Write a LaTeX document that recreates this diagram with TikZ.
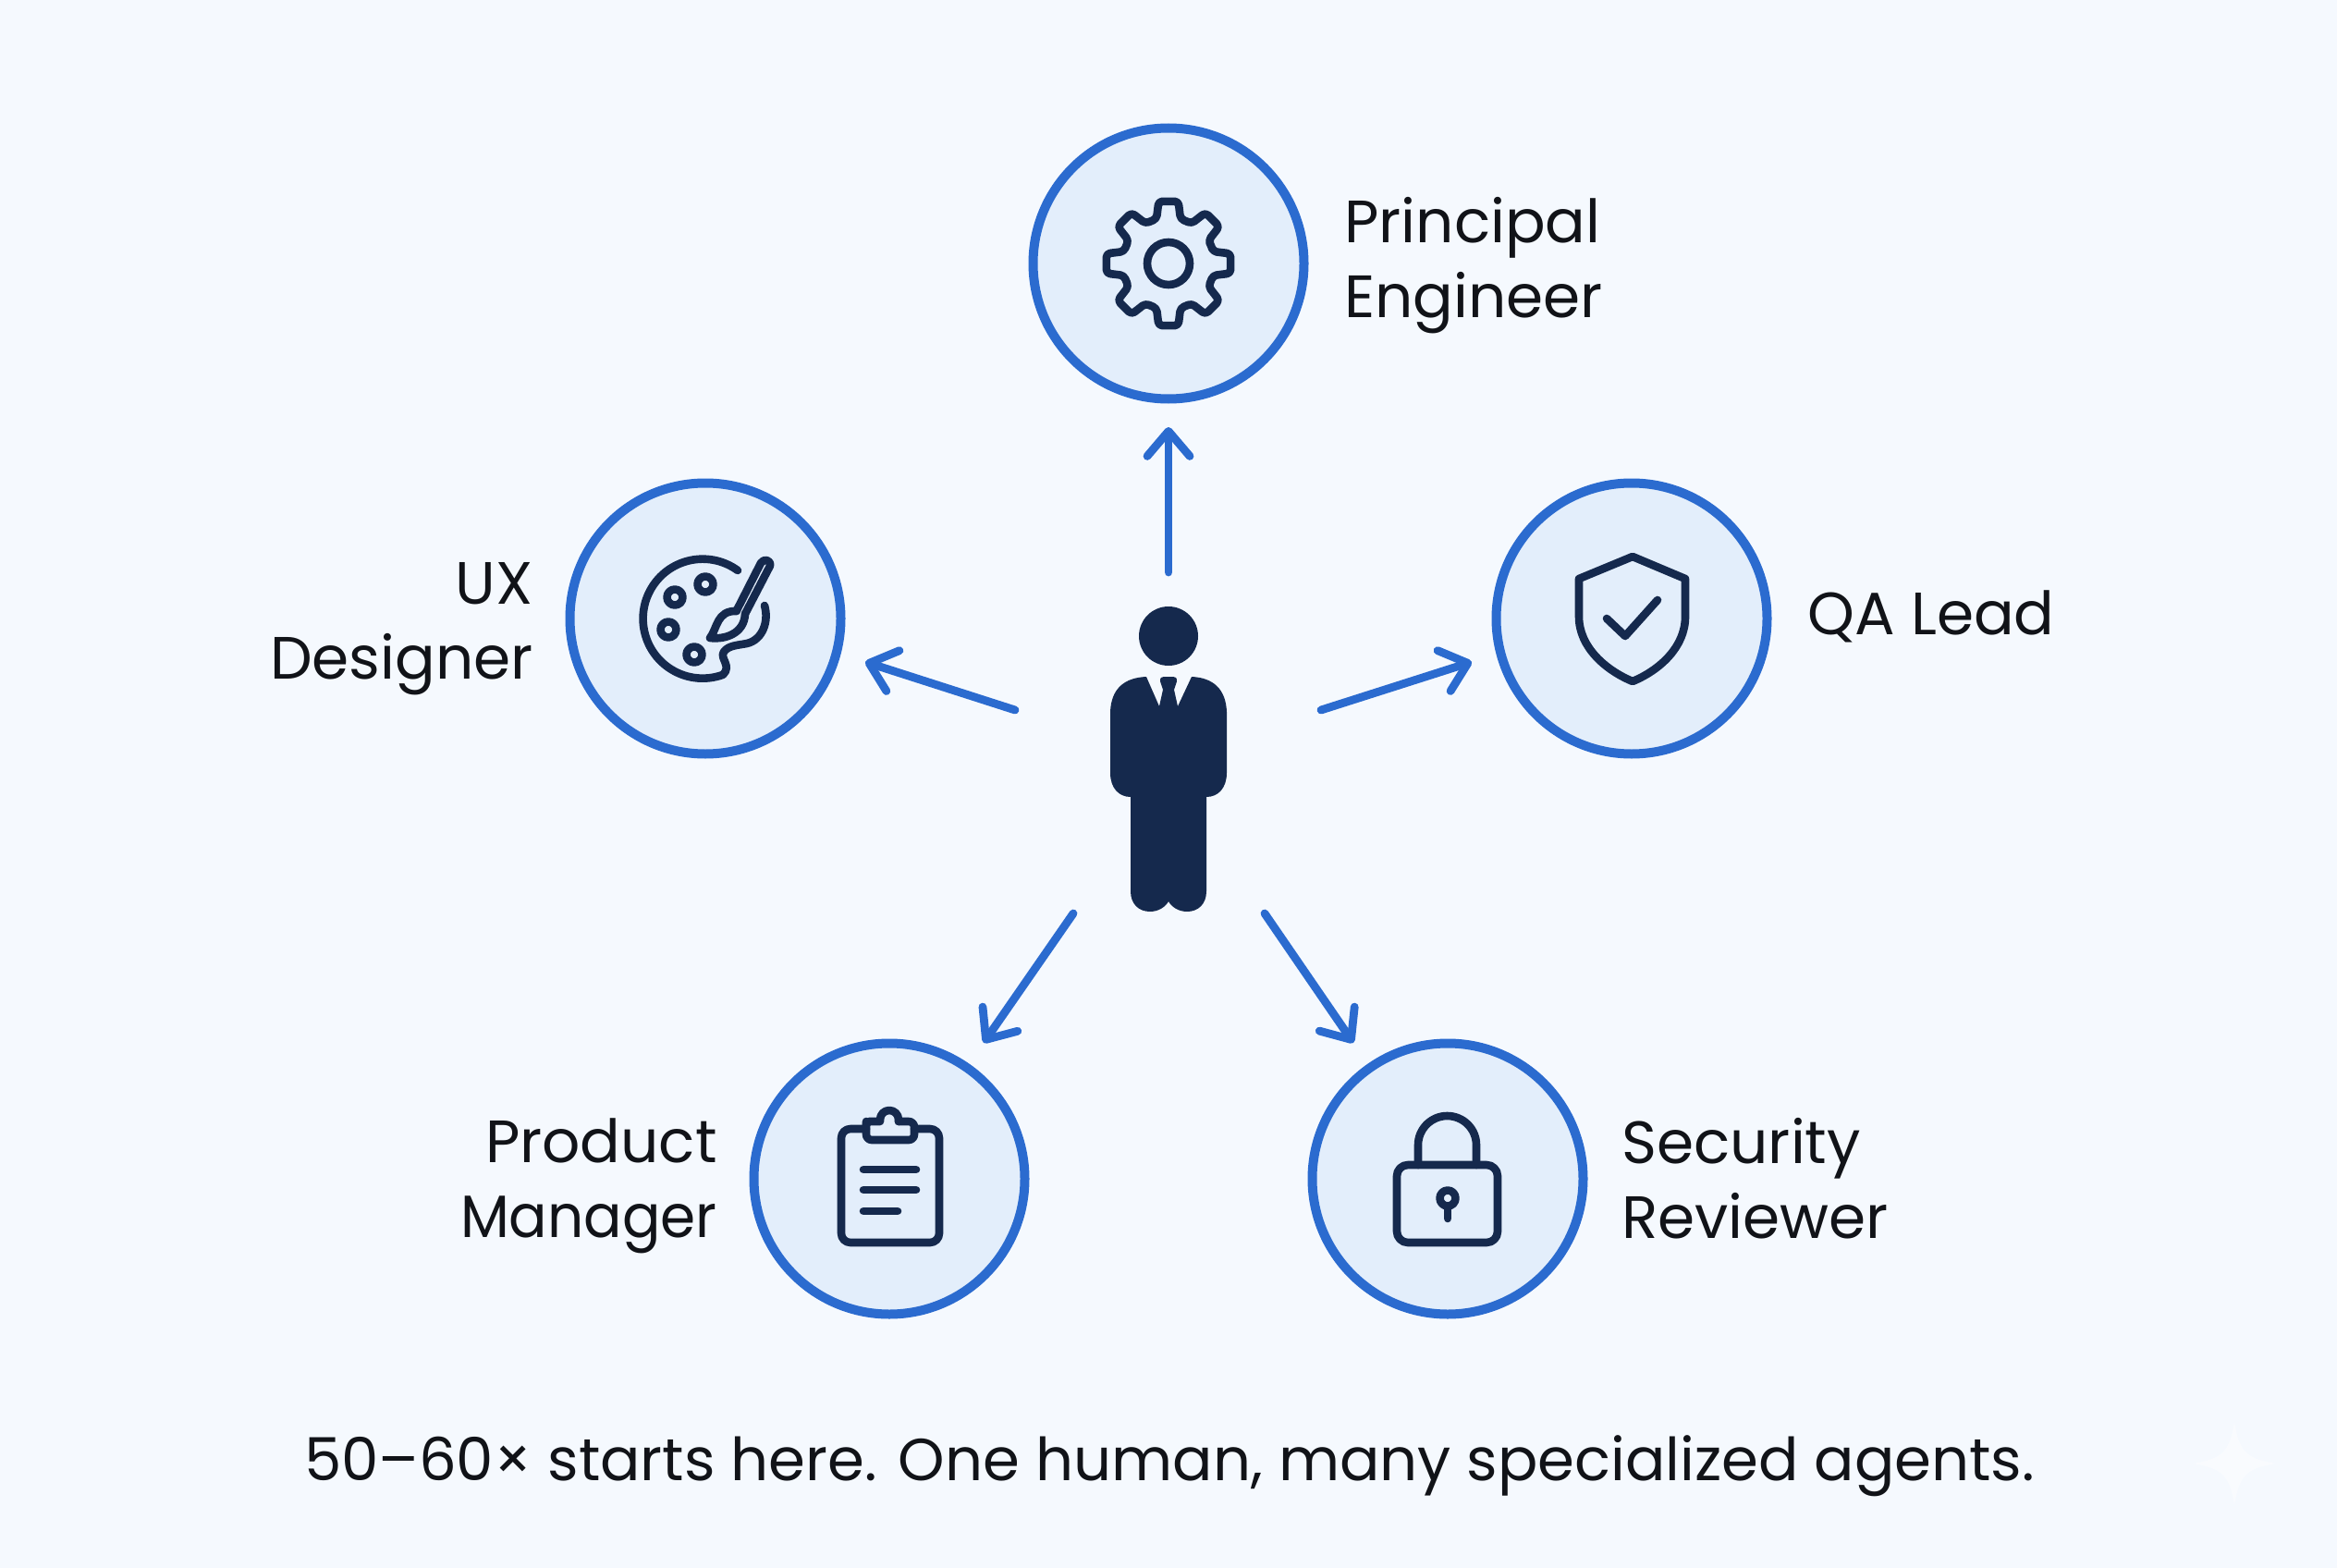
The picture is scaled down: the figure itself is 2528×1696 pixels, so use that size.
\documentclass[tikz,border=0pt]{standalone}
\usepackage{fontspec}
\usetikzlibrary{arrows.meta}
\setmainfont{Poppins}
\definecolor{bgc}{HTML}{F5F9FE}
\definecolor{ringc}{HTML}{2B6BCF}
\definecolor{fillc}{HTML}{E3EEFB}
\definecolor{inkc}{HTML}{15294D}
\definecolor{textc}{HTML}{111318}
\tikzset{
  hub/.style={circle,draw=ringc,fill=fillc,line width=5pt,minimum size=146.5pt,inner sep=0pt},
  icon/.style={draw=inkc,line width=4.3pt,line cap=round,line join=round},
  flow/.style={draw=ringc,line width=4.4pt,line cap=round,-{Straight Barb[round,length=13.5pt,width=23pt,line width=4.4pt]}},
  lab/.style={text=textc,font=\fontsize{32.3}{40.5}\selectfont,inner sep=0pt},
  captiontext/.style={text=textc,font=\fontsize{32.1}{40}\selectfont,inner sep=0pt}
}
\begin{document}
\begin{tikzpicture}[x=.5pt,y=-.5pt]
\useasboundingbox (0,0) rectangle (2528,1696);
\fill[bgc] (0,0) rectangle (2528,1696);
\fill[white,opacity=.45] (2417,1538) .. controls (2422,1570) and (2430,1578) .. (2462,1583) .. controls (2430,1588) and (2422,1596) .. (2417,1628) .. controls (2412,1596) and (2404,1588) .. (2372,1583) .. controls (2404,1578) and (2412,1570) .. (2417,1538) -- cycle;

% hubs
\node[hub] (eng) at (1264,285) {};
\node[hub] (ux) at (763,669) {};
\node[hub] (qa) at (1765,669) {};
\node[hub] (pm) at (962,1275) {};
\node[hub] (sec) at (1566,1275) {};

% labels
\node[lab,anchor=west,align=left] (lEng) at (1454,287) {Principal\\Engineer};
\node[lab,anchor=east,align=right] (lUx) at (577,680) {UX\\Designer};
\node[lab,anchor=west] (lQa) at (1955,667) {QA Lead};
\node[lab,anchor=east,align=right] (lPm) at (776,1283) {Product\\\scalebox{.95}[1]{Manager}};
\node[lab,anchor=west,align=left] (lSec) at (1754,1275) {Security\\Reviewer};
\node[captiontext] (caption) at (1265,1586) {50–60× starts here. One human, many specialized agents.};

% person
\node[circle,fill=inkc,minimum size=32pt,inner sep=0pt] (head) at (1264,688) {};
\fill[inkc] (1240,732) -- (1254,764) -- (1258,746) -- (1255,737) .. controls (1255,733) and (1256,732) .. (1259,732) -- (1269,732) .. controls (1272,732) and (1273,733) .. (1273,737) -- (1270,746) -- (1274,764) -- (1289,732)
  .. controls (1312,733) and (1326,745) .. (1327,770) -- (1327,836) .. controls (1327,852) and (1318,862) .. (1305,862)
  -- (1305,964) .. controls (1305,978) and (1296,986) .. (1284,986) .. controls (1276,986) and (1268,982) .. (1264,975)
  .. controls (1260,982) and (1252,986) .. (1244,986) .. controls (1232,986) and (1223,978) .. (1223,964)
  -- (1223,862) .. controls (1210,862) and (1201,852) .. (1201,836) -- (1201,770) .. controls (1202,745) and (1216,733) .. (1240,732) -- cycle;

% connectors
\coordinate (sEng) at (1264,619); \coordinate (tEng) at (1264,462);
\coordinate (sUx) at (1098,768); \coordinate (tUx) at (936,716);
\coordinate (sQa) at (1429,768); \coordinate (tQa) at (1592,716);
\coordinate (sPm) at (1161,988); \coordinate (tPm) at (1064,1128);
\coordinate (sSec) at (1368,988); \coordinate (tSec) at (1464,1128);
\draw[flow] (sEng) -- (tEng);
\draw[flow] (sUx) -- (tUx);
\draw[flow] (sQa) -- (tQa);
\draw[flow] (sPm) -- (tPm);
\draw[flow] (sSec) -- (tSec);

% gear icon
\draw[icon] (1264,285) circle[radius=23];
\draw[icon,rounded corners=2pt] ({1264+50*cos(-22.5)},{285+50*sin(-22.5)})
  \foreach \a in {0,45,...,315} {
    -- ({1264+50*cos(\a-15)},{285+50*sin(\a-15)})
    -- ({1264+68*cos(\a-9)},{285+68*sin(\a-9)})
    -- ({1264+68*cos(\a+9)},{285+68*sin(\a+9)})
    -- ({1264+50*cos(\a+15)},{285+50*sin(\a+15)})
  } -- cycle;

% palette icon
\draw[icon] (798,617) arc[start angle=-54,end angle=-290,radius=64.5]
  .. controls (792,720) and (778,712) .. (783,705)
  .. controls (788,698) and (798,698) .. (808,696)
  .. controls (825,692) and (832,672) .. (827,655);
\foreach \p in {(763,632),(730,646),(723,681),(751,708)} \draw[icon] \p circle[radius=8.5];
\draw[icon] (797,660) -- (823,609) .. controls (826,604) and (834,605) .. (833,612) -- (806,664);
\draw[icon] (797,661) .. controls (775,660) and (776,680) .. (768,690) .. controls (785,692) and (805,685) .. (806,664);

% shield icon
\draw[icon] (1766,602) -- (1823,626) -- (1823,667) .. controls (1823,700) and (1795,725) .. (1766,737) .. controls (1737,725) and (1708,700) .. (1708,667) -- (1708,626) -- cycle;
\draw[icon] (1738,669) -- (1758,688) -- (1793,649);

% clipboard icon
\draw[icon,rounded corners=5pt] (937,1221) -- (910,1221) -- (910,1344) -- (1016,1344) -- (1016,1221) -- (989,1221);
\draw[icon,rounded corners=3pt] (937,1213) -- (937,1233) -- (989,1233) -- (989,1213) -- (972,1213);
\draw[icon] (972,1213) -- (972,1211) arc[start angle=0,end angle=-180,radius=10] -- (952,1213) -- (940,1213) -- (937,1216);
\draw[icon] (934,1265) -- (991,1265);
\draw[icon] (934,1287) -- (991,1287);
\draw[icon] (934,1310) -- (971,1310);

% lock icon
\draw[icon,rounded corners=6pt] (1511,1260) rectangle (1620,1344);
\draw[icon] (1534,1260) -- (1534,1238.5) arc[start angle=180,end angle=360,radius=31.5] -- (1597,1260);
\draw[icon] (1566,1296) circle[radius=8.5];
\draw[icon] (1566,1306) -- (1566,1318);
\end{tikzpicture}
\end{document}
